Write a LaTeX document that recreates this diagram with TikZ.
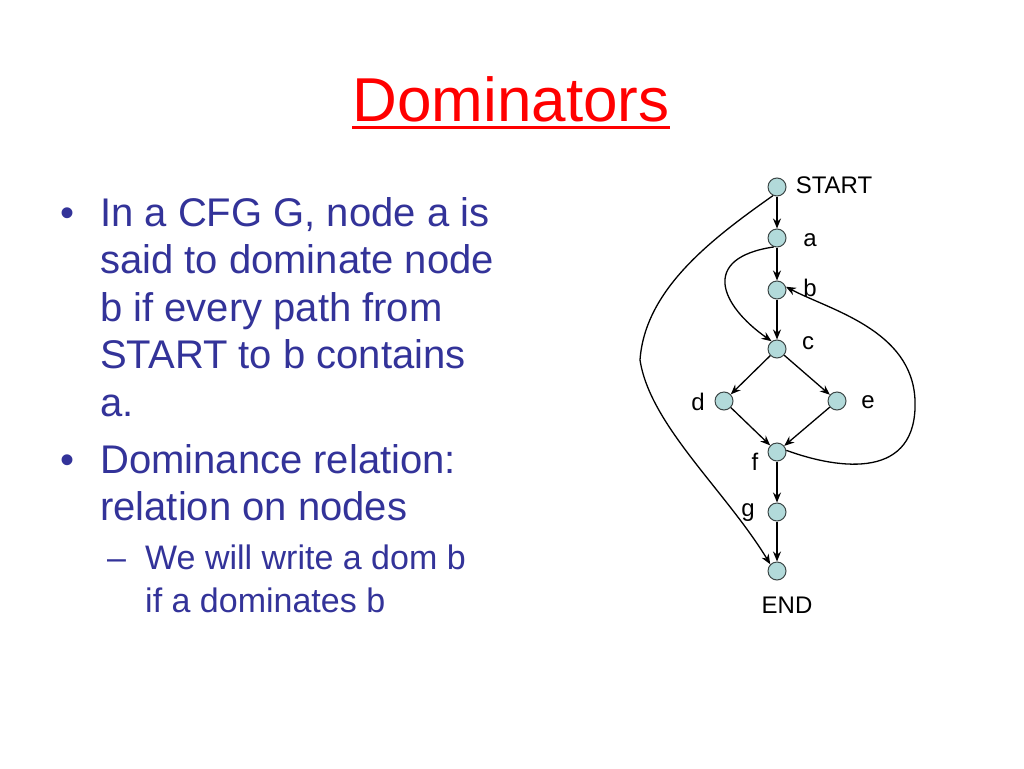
\documentclass[tikz,border=0pt]{standalone}
\usepackage{fontspec}
\setmainfont{Liberation Sans}
\usetikzlibrary{arrows.meta}
\definecolor{txtblue}{RGB}{51,51,153}
\definecolor{vfill}{RGB}{178,218,218}
\definecolor{vdraw}{RGB}{60,70,70}
\begin{document}
\begin{tikzpicture}[x=1pt,y=-1pt,
  vert/.style={circle,draw=vdraw,fill=vfill,line width=1pt,minimum size=18pt,inner sep=0pt},
  lbl/.style={font=\fontsize{24}{28}\selectfont,inner sep=0pt},
  edge/.style={line width=1.3pt,-{Stealth[length=10pt,width=8pt]}},
  body/.style={anchor=base west,inner sep=0pt,text=txtblue,font=\fontsize{40}{48}\selectfont},
  sub/.style={anchor=base west,inner sep=0pt,text=txtblue,font=\fontsize{34}{40}\selectfont}]
\useasboundingbox (0,0) rectangle (1024,768);
\fill[white] (0,0) rectangle (1024,768);
% title
\node[anchor=base,inner sep=0pt,text=red,font=\fontsize{62}{70}\selectfont] (title) at (511,121) {Dominators};
\draw[red,line width=3pt] ([yshift=-6pt]title.base west) -- ([yshift=-6pt]title.base east);
% bullets
\node[body] (b1) at (60,226) {•};
\node[body] (t1) at (100,226) {In a CFG G, node a is};
\node[body] (t2) at (100,273) {said to dominate node};
\node[body] (t3) at (100,321) {b if every path from};
\node[body] (t4) at (100,368) {START to b contains};
\node[body] (t5) at (100,416) {a.};
\node[body] (b2) at (60,473) {•};
\node[body] (t6) at (100,473) {Dominance relation:};
\node[body] (t7) at (100,520) {relation on nodes};
\node[sub] (b3) at (107,569) {–};
\node[sub] (t8) at (145,569) {We will write a dom b};
\node[sub] (t9) at (145,612) {if a dominates b};
% graph vertices
\node[vert] (S) at (777,187) {};
\node[vert] (a) at (777,238) {};
\node[vert] (b) at (777,290) {};
\node[vert] (c) at (777,349) {};
\node[vert] (d) at (724,401) {};
\node[vert] (e) at (837,401) {};
\node[vert] (f) at (777,452) {};
\node[vert] (g) at (777,512) {};
\node[vert] (E) at (777,571) {};
% labels
\node[lbl] (lS) at (834,185) {START};
\node[lbl] (la) at (810,240) {a};
\node[lbl] (lb) at (810,288) {b};
\node[lbl] (lc) at (808,343) {c};
\node[lbl] (ld) at (698,402) {d};
\node[lbl] (le) at (868,402) {e};
\node[lbl] (lf) at (755,462) {f};
\node[lbl] (lg) at (748,513) {g};
\node[lbl] (lE) at (787,605) {END};
% edges
\draw[edge] (S) -- (a);
\draw[edge] (a) -- (b);
\draw[edge] (b) -- (c);
\draw[edge] (c) -- (d);
\draw[edge] (c) -- (e);
\draw[edge] (d) -- (f);
\draw[edge] (e) -- (f);
\draw[edge] (f) -- (g);
\draw[edge] (g) -- (E);
\draw[edge] (a.250) .. controls (700,258) and (720,305) .. (c.125);
\draw[edge] (S.245) .. controls (710,240) and (645,290) .. (640,360) .. controls (650,425) and (725,490) .. (E.135);
\draw[edge] (f.10) .. controls (840,470) and (918,480) .. (915,400) .. controls (912,330) and (830,310) .. (b.20);
\end{tikzpicture}
\end{document}
